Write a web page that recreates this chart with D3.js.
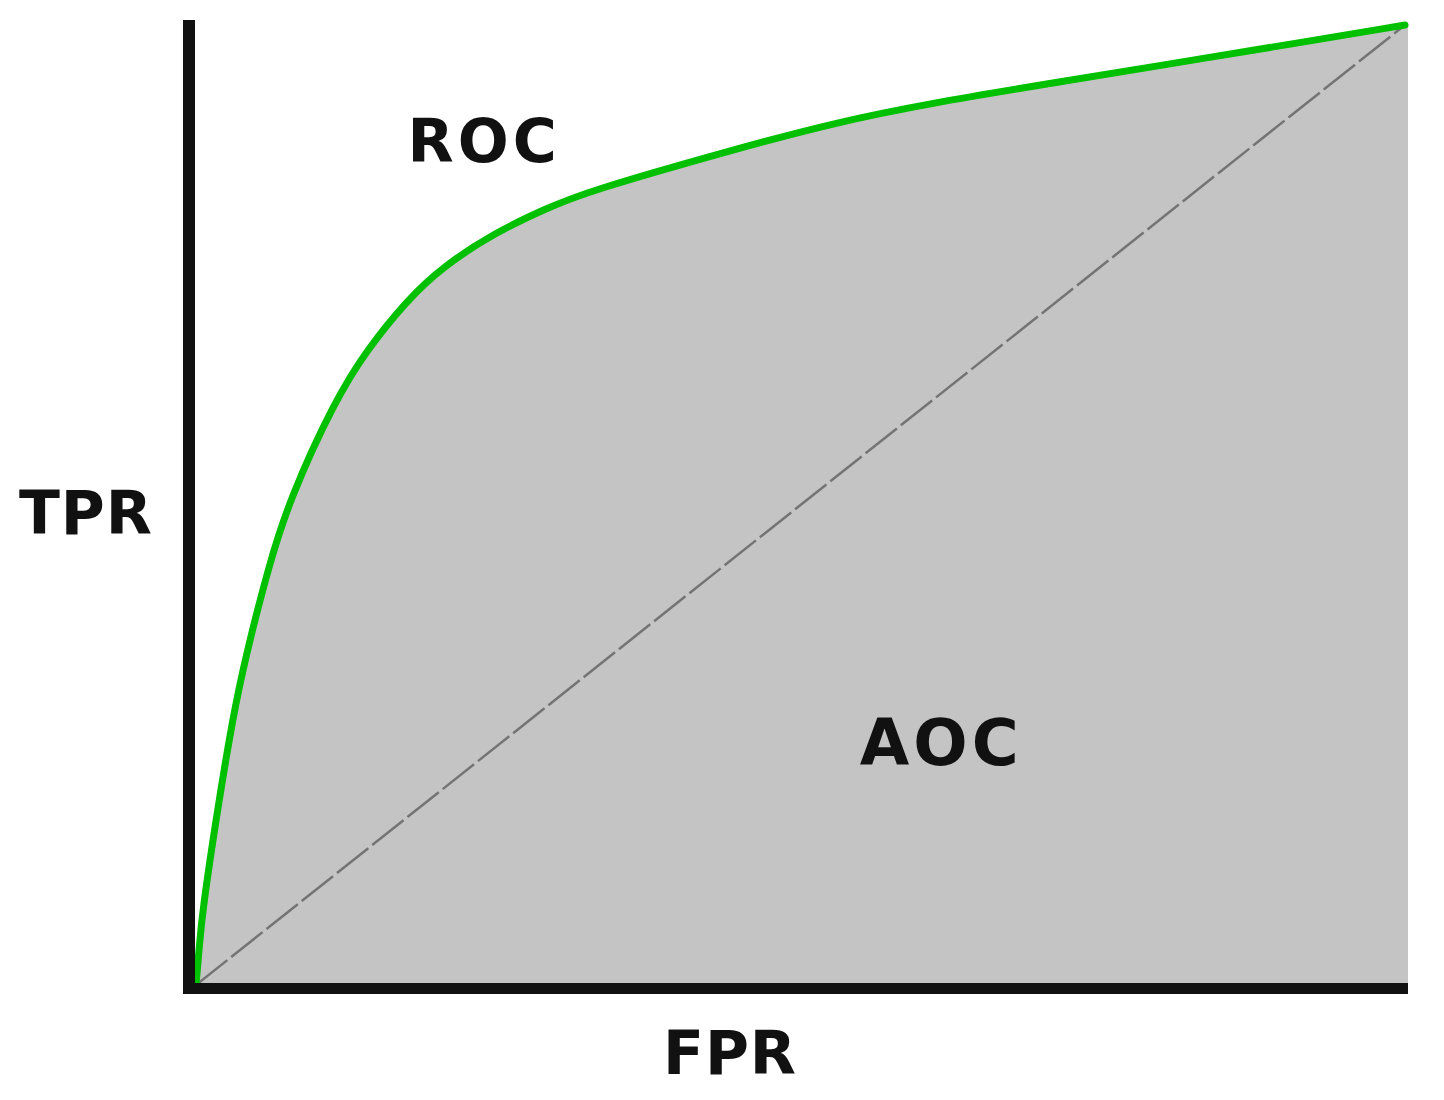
<!DOCTYPE html>
<html>
<head>
<meta charset="utf-8">
<script src="https://cdn.jsdelivr.net/npm/d3@7"></script>
<style>
  body { margin: 0; background: #fff; }
  text { font-family: "DejaVu Sans", sans-serif; font-weight: bold; fill: #111; }
</style>
</head>
<body>
<svg id="chart" width="1444" height="1100"></svg>
<script>
// ROC curve points (false positive rate, true positive rate)
const fpr = [0, 0.0025, 0.005, 0.019, 0.033, 0.046, 0.060, 0.077, 0.115, 0.141, 0.175, 0.204, 0.246, 0.290, 0.322, 0.444, 0.527, 0.610, 0.706, 0.803, 0.886, 1];
const tpr = [0, 0.036, 0.075, 0.193, 0.297, 0.367, 0.435, 0.505, 0.609, 0.661, 0.714, 0.748, 0.783, 0.809, 0.826, 0.870, 0.898, 0.919, 0.939, 0.959, 0.976, 1];
const diagonal = [[0, 0], [1, 1]];
const labels = [
    { text: "ROC", x: 0.175, y: 0.857, size: 60 },
    { text: "AOC", x: 0.549, y: 0.229, size: 64 }
];
const xTitle = "FPR";
const yTitle = "TPR";

const plotLeft = 196, plotRight = 1405, plotTop = 25, plotBottom = 985;

const x = d3.scaleLinear().domain([0, 1]).range([plotLeft, plotRight]);
const y = d3.scaleLinear().domain([0, 1]).range([plotBottom, plotTop]);

const svg = d3.select("#chart");
const points = fpr.map((f, i) => [f, tpr[i]]);
const smooth = d3.curveBasis;

// area under the curve
svg.append("path")
    .datum(points)
    .attr("fill", "#c4c4c4")
    .attr("d", d3.area()
        .x(d => x(d[0]))
        .y0(y(0))
        .y1(d => y(d[1]))
        .curve(smooth));

// extend fill to right edge
svg.append("rect")
    .attr("x", x(1))
    .attr("y", y(1))
    .attr("width", 3)
    .attr("height", y(0) - y(1))
    .attr("fill", "#c4c4c4");

// random classifier diagonal
svg.append("path")
    .datum(diagonal)
    .attr("fill", "none")
    .attr("stroke", "#747474")
    .attr("stroke-width", 2.5)
    .attr("stroke-dasharray", "40,5")
    .attr("d", d3.line().x(d => x(d[0])).y(d => y(d[1])));

// ROC curve
svg.append("path")
    .datum(points)
    .attr("fill", "none")
    .attr("stroke", "#00c000")
    .attr("stroke-width", 7)
    .attr("stroke-linecap", "round")
    .attr("d", d3.line()
        .x(d => x(d[0]))
        .y(d => y(d[1]))
        .curve(smooth));

// axes
svg.append("line")
    .attr("x1", 189).attr("x2", 189)
    .attr("y1", 20).attr("y2", 994)
    .attr("stroke", "#111").attr("stroke-width", 12);
svg.append("line")
    .attr("x1", 183).attr("x2", 1408)
    .attr("y1", 988.5).attr("y2", 988.5)
    .attr("stroke", "#111").attr("stroke-width", 11);

// labels
svg.selectAll("text.lab")
    .data(labels)
    .enter().append("text")
    .attr("class", "lab")
    .attr("x", d => x(d.x))
    .attr("y", d => y(d.y))
    .attr("font-size", d => d.size)
    .attr("letter-spacing", 4)
    .text(d => d.text);

svg.append("text")
    .attr("x", 730)
    .attr("y", 1074)
    .attr("text-anchor", "middle")
    .attr("font-size", 60)
    .attr("letter-spacing", 1)
    .text(xTitle);

svg.append("text")
    .attr("x", 86)
    .attr("y", 534)
    .attr("text-anchor", "middle")
    .attr("font-size", 60)
    .attr("letter-spacing", 1)
    .text(yTitle);
</script>
</body>
</html>
